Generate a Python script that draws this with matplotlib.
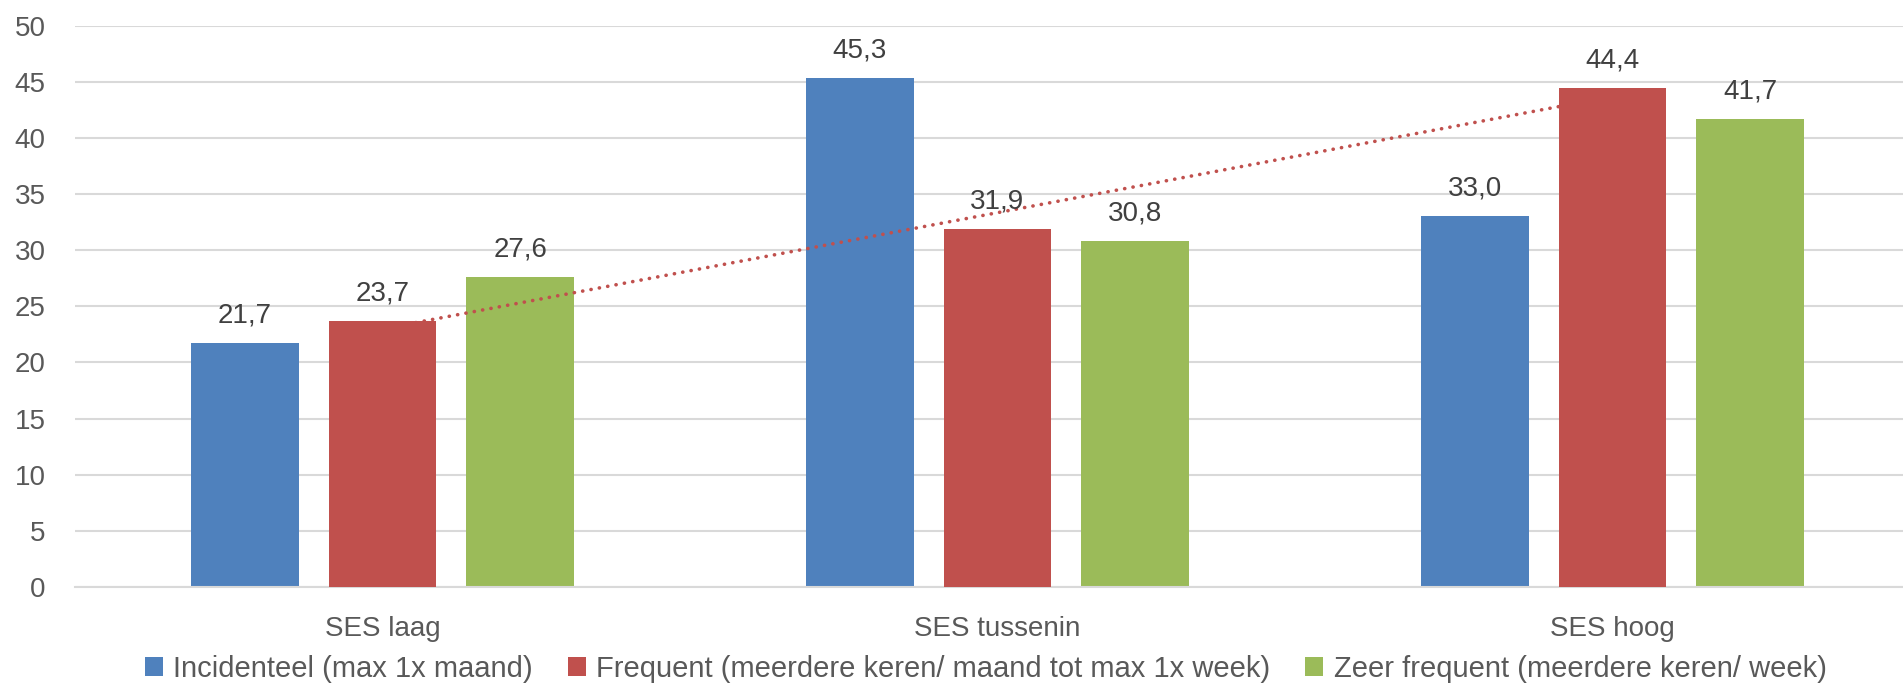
import numpy as np
import matplotlib.pyplot as plt

categories = ["SES laag", "SES tussenin", "SES hoog"]
series_names = ["Incidenteel (max 1x maand)",
                "Frequent (meerdere keren/ maand tot max 1x week)",
                "Zeer frequent (meerdere keren/ week)"]
incidenteel = [21.7, 45.3, 33.0]
frequent = [23.7, 31.9, 44.4]
zeer_frequent = [27.6, 30.8, 41.7]
yticks = [0, 5, 10, 15, 20, 25, 30, 35, 40, 45, 50]

colors = ["#4F81BD", "#C0504D", "#9BBB59"]

plt.rcParams['font.family'] = ['Liberation Sans', 'DejaVu Sans']

fig = plt.figure(figsize=(19.03, 6.87), dpi=100)
# plot area runs a little past the right edge, like the original
ax = fig.add_axes([75/1903, 100/687, 1845/1903, (587-25.5)/687])

x = np.arange(len(categories))
w = 0.175
step = 0.224
data = [incidenteel, frequent, zeer_frequent]
zord = [2, 4, 2]
for i, (vals, c) in enumerate(zip(data, colors)):
    pos = x + (i - 1) * step
    bars = ax.bar(pos, vals, w, color=c, label=series_names[i], zorder=zord[i])
    for b, v in zip(bars, vals):
        ax.text(b.get_x() + b.get_width()/2, v + 1.3, f"{v:.1f}".replace(".", ","),
                ha="center", va="bottom", fontsize=20, color="#404040", zorder=5)

# linear trendline for the Frequent series
k, m = np.polyfit(x, frequent, 1)
ax.plot(x, k*x + m, color=colors[1], linestyle=(0, (0.05, 2.3)), linewidth=2.6,
        dash_capstyle="round", zorder=3)

ax.set_xlim(-0.5, 2.5)
ax.set_ylim(0, 50)
ax.set_yticks(yticks)
ax.set_yticklabels([str(t) for t in yticks])
ax.set_xticks(x)
ax.set_xticklabels(categories)
ax.tick_params(axis="y", length=0, pad=21, labelsize=20, labelcolor="#595959")
ax.tick_params(axis="x", length=0, pad=21, labelsize=20, labelcolor="#595959")
ax.grid(axis="y", color="#D9D9D9", linewidth=1.5, zorder=0)
ax.set_axisbelow(True)
for s in ["top", "right", "left"]:
    ax.spines[s].set_visible(False)
ax.spines["bottom"].set_color("#D9D9D9")
ax.spines["bottom"].set_linewidth(1.5)

fig.legend(loc="center", bbox_to_anchor=(0.518, 1 - 669/687), ncol=3, frameon=False,
           fontsize=21, labelcolor="#595959", handlelength=0.62, handleheight=0.62,
           handletextpad=0.35, columnspacing=1.2)

fig.savefig("out.png", dpi=100)
